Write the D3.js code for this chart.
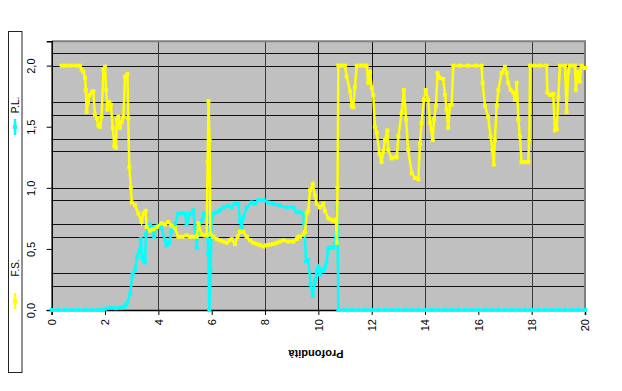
<!DOCTYPE html>
<html><head><meta charset="utf-8">
<script src="https://cdn.jsdelivr.net/npm/d3@7"></script>
<style>body{margin:0;background:#fff}svg{display:block}text{font-family:"Liberation Sans",Arial,sans-serif}</style>
</head><body><svg id="c" width="622" height="391"></svg>
<script>
// ---- data ----
const fsDepth = [0.37,0.5,0.7,0.9,1.06,1.12,1.19,1.25,1.28,1.31,1.36,1.41,1.5,1.56,1.62,1.69,1.75,1.81,1.87,1.94,2.0,2.04,2.09,2.16,2.22,2.29,2.35,2.41,2.44,2.5,2.56,2.62,2.69,2.75,2.84,2.87,2.91,2.97,3.0,3.12,3.25,3.37,3.44,3.52,3.56,3.69,3.81,3.94,4.12,4.25,4.37,4.5,4.62,4.75,4.9,5.05,5.19,5.31,5.44,5.5,5.62,5.75,5.81,5.85,5.88,5.92,5.95,6.06,6.19,6.31,6.44,6.56,6.66,6.75,6.87,6.97,7.06,7.19,7.31,7.44,7.56,7.69,7.81,7.94,8.06,8.19,8.31,8.44,8.56,8.69,8.87,9.06,9.19,9.25,9.31,9.44,9.5,9.56,9.62,9.69,9.79,9.87,9.94,10.06,10.19,10.25,10.37,10.47,10.56,10.66,10.69,10.72,10.75,10.88,11.0,11.06,11.19,11.25,11.31,11.37,11.44,11.56,11.69,11.81,11.87,11.94,12.0,12.06,12.12,12.19,12.29,12.37,12.44,12.5,12.59,12.62,12.75,12.87,12.94,13.0,13.12,13.21,13.29,13.37,13.5,13.62,13.75,13.81,13.87,13.96,14.03,14.12,14.19,14.29,14.34,14.41,14.47,14.56,14.68,14.75,14.81,14.87,14.94,15.0,15.06,15.3,15.6,15.9,16.12,16.16,16.25,16.37,16.46,16.53,16.58,16.62,16.69,16.75,16.87,17.0,17.06,17.12,17.21,17.31,17.37,17.44,17.5,17.56,17.62,17.75,17.87,17.91,17.94,18.1,18.3,18.56,18.59,18.68,18.81,18.87,18.94,19.0,19.06,19.25,19.31,19.37,19.44,19.62,19.66,19.72,19.8,19.87,20.0];
const fsValue = [2.0,2.0,2.0,2.0,2.0,1.97,1.95,1.90,1.80,1.62,1.70,1.76,1.78,1.79,1.60,1.57,1.51,1.50,1.58,1.97,1.99,1.80,1.64,1.70,1.68,1.49,1.34,1.33,1.56,1.58,1.49,1.54,1.58,1.91,1.93,1.57,1.17,1.00,0.88,0.86,0.79,0.72,0.79,0.81,0.68,0.65,0.66,0.68,0.71,0.70,0.72,0.69,0.67,0.60,0.60,0.61,0.60,0.60,0.60,0.71,0.62,0.61,0.61,1.21,1.71,1.39,0.62,0.60,0.58,0.57,0.56,0.55,0.57,0.58,0.54,0.60,0.64,0.64,0.60,0.57,0.55,0.54,0.53,0.52,0.53,0.535,0.54,0.55,0.56,0.57,0.56,0.56,0.58,0.60,0.60,0.62,0.64,0.79,0.81,0.98,1.03,0.94,0.87,0.84,0.87,0.81,0.75,0.74,0.73,0.74,0.55,1.0,2.0,2.0,2.0,1.91,1.79,1.67,1.66,1.82,2.0,2.0,2.0,2.0,1.86,1.95,1.82,1.76,1.50,1.45,1.28,1.21,1.30,1.39,1.47,1.31,1.24,1.25,1.25,1.42,1.61,1.80,1.56,1.31,1.12,1.08,1.07,1.36,1.53,1.72,1.80,1.72,1.53,1.39,1.56,1.67,1.94,1.90,1.89,1.76,1.64,1.49,1.68,1.68,2.0,2.0,2.0,2.0,2.0,1.86,1.67,1.58,1.42,1.31,1.19,1.39,1.67,1.80,1.94,1.99,1.94,1.86,1.80,1.78,1.72,1.86,1.56,1.42,1.21,1.21,1.21,1.39,2.0,2.0,2.0,2.0,1.78,1.76,1.77,1.47,1.48,1.74,2.0,2.0,1.62,1.95,2.0,2.0,1.80,1.95,1.87,2.0,1.98];
const plDepth = [0,0.25,0.5,0.75,1.0,1.25,1.5,1.75,1.9,2.0,2.2,2.4,2.6,2.75,2.81,2.94,3.03,3.12,3.21,3.3,3.34,3.39,3.44,3.5,3.54,3.6,3.69,3.75,3.84,3.92,4.0,4.12,4.25,4.31,4.41,4.5,4.62,4.75,4.87,5.0,5.06,5.19,5.31,5.37,5.44,5.5,5.62,5.71,5.81,5.87,5.91,5.96,6.0,6.06,6.19,6.31,6.44,6.62,6.75,6.87,7.0,7.06,7.12,7.19,7.31,7.5,7.62,7.75,7.94,8.12,8.31,8.56,8.81,9.06,9.19,9.31,9.44,9.47,9.54,9.62,9.71,9.79,9.87,9.94,10.0,10.06,10.12,10.19,10.25,10.31,10.37,10.44,10.56,10.62,10.66,10.69,10.72,10.75,11.0,11.25,11.5,11.75,12.0,12.25,12.5,12.75,13.0,13.25,13.5,13.75,14.0,14.25,14.5,14.75,15.0,15.25,15.5,15.75,16.0,16.25,16.5,16.75,17.0,17.25,17.5,17.75,18.0,18.25,18.5,18.75,19.0,19.25,19.5,19.75,20.0];
const plValue = [0,0,0,0,0,0,0,0,0,0.01,0.02,0.015,0.02,0.03,0.05,0.13,0.29,0.33,0.44,0.49,0.58,0.43,0.40,0.39,0.62,0.69,0.70,0.68,0.60,0.68,0.69,0.67,0.57,0.53,0.55,0.65,0.70,0.79,0.79,0.79,0.70,0.79,0.815,0.68,0.51,0.68,0.73,0.79,0.76,0.46,0,0.32,0.76,0.79,0.80,0.815,0.84,0.855,0.84,0.87,0.87,0.73,0.68,0.76,0.84,0.88,0.87,0.90,0.90,0.88,0.87,0.855,0.84,0.84,0.80,0.80,0.79,0.705,0.40,0.41,0.21,0.115,0.24,0.32,0.35,0.29,0.33,0.32,0.35,0.39,0.50,0.51,0.51,0.54,0.60,0.84,0.65,0,0,0,0,0,0,0,0,0,0,0,0,0,0,0,0,0,0,0,0,0,0,0,0,0,0,0,0,0,0,0,0,0,0,0,0,0,0,0];
const xTicks = [0,2,4,6,8,10,12,14,16,18,20];
const yTicks = [0,0.5,1.0,1.5,2.0];
const xGrid = [4,8,10,12,14,18];
const yGrid = [0.2,0.3,0.6,0.7,0.9,1.0,1.3,1.4,1.6,1.7,2.0,2.1];
const seriesNames = ["P.L.","F.S."];
const seriesColors = ["#00FFFF","#FFFF00"];
const axisTitle = "Profondità";

// ---- chart ----
const svg = d3.select("#c");
const L = 51.7, R = 585, T = 41.2, B = 310;
const x = d3.scaleLinear().domain([0,20]).range([L,R]);
const y = d3.scaleLinear().domain([0,2.2]).range([B,T]);
const fmt = v => d3.format(".1f")(v).replace(".", ",");

svg.append("rect").attr("width",622).attr("height",391).attr("fill","#fff");
// legend box
svg.append("rect").attr("x",8.5).attr("y",31.5).attr("width",13.5).attr("height",341)
  .attr("fill","#fff").attr("stroke","#222").attr("stroke-width",1);

// plot area
svg.append("rect").attr("x",L).attr("y",T).attr("width",R-L).attr("height",B-T).attr("fill","#C0C0C0");
const g = svg.append("g");
g.selectAll(".hg").data(yGrid).join("line")
  .attr("x1",L).attr("x2",R).attr("y1",d=>Math.round(y(d))+0.5).attr("y2",d=>Math.round(y(d))+0.5)
  .attr("stroke","#111").attr("stroke-width",1);
g.selectAll(".vg").data(xGrid).join("line")
  .attr("y1",T).attr("y2",B).attr("x1",d=>Math.round(x(d))+0.5).attr("x2",d=>Math.round(x(d))+0.5)
  .attr("stroke",(d,i)=> (d===10||d===12)?"#111":"#3a3a3a").attr("stroke-width",1);
// frame top/right
svg.append("path").attr("d",`M${L},${T}H${R}V${B}`).attr("fill","none").attr("stroke","#808080").attr("stroke-width",2);

// axes
const xAxis = d3.axisBottom(x).tickValues(xTicks).tickSize(5).tickFormat(d3.format("d"));
const gx = svg.append("g").attr("transform",`translate(0,${B})`).call(xAxis);
gx.select(".domain").attr("stroke","#000").attr("stroke-width",1.5);
gx.selectAll(".tick line").attr("stroke","#000");
gx.selectAll(".tick text").attr("font-size",11).attr("fill","#000")
  .attr("transform","rotate(-90)").attr("text-anchor","end").attr("x",-9).attr("y",0).attr("dy","0.35em");

const yAxis = d3.axisLeft(y).tickValues(yTicks).tickSize(5).tickFormat(fmt);
const gy = svg.append("g").attr("transform",`translate(${L},0)`).call(yAxis);
gy.select(".domain").attr("stroke","#000").attr("stroke-width",1.5);
gy.selectAll(".tick line").attr("stroke","#000");
gy.selectAll(".tick text").attr("font-size",11).attr("fill","#000")
  .attr("transform","rotate(-90)").attr("text-anchor","middle").attr("x",0).attr("y",-21).attr("dy","0.35em");

// axis title (upside-down)
svg.append("text").attr("transform",`translate(316,354) rotate(180)`)
  .attr("text-anchor","middle").attr("dy","0.35em").attr("font-size",11).attr("font-weight","bold")
  .text(axisTitle);

// series
const line = d3.line().x(d=>x(d[0])).y(d=>y(d[1]));
const fsData = fsDepth.map((d,i)=>[d,fsValue[i]]);
const plData = plDepth.map((d,i)=>[d,plValue[i]]);
function drawSeries(data,color){
  const sg = svg.append("g");
  sg.append("path").datum(data).attr("d",line).attr("fill","none").attr("stroke",color)
    .attr("stroke-width",2.5).attr("stroke-linejoin","miter");
  sg.selectAll("rect").data(data).join("rect")
    .attr("x",d=>x(d[0])-2).attr("y",d=>y(d[1])-2).attr("width",4).attr("height",4).attr("fill",color);
}
drawSeries(plData, seriesColors[0]);
drawSeries(fsData, seriesColors[1]);

// legend (rotated)
const legendPos = [{tx:105, my:127},{tx:268, my:301}];
seriesNames.forEach((n,i)=>{
  const lp = legendPos[i];
  svg.append("line").attr("x1",15).attr("x2",15).attr("y1",lp.my-8).attr("y2",lp.my+8)
    .attr("stroke",seriesColors[i]).attr("stroke-width",2.5);
  svg.append("rect").attr("x",13).attr("y",lp.my-2).attr("width",4).attr("height",4).attr("fill",seriesColors[i]);
  svg.append("text").attr("transform",`translate(15,${lp.tx}) rotate(-90)`)
    .attr("text-anchor","middle").attr("dy","0.35em").attr("font-size",10).text(n);
});
</script></body></html>
